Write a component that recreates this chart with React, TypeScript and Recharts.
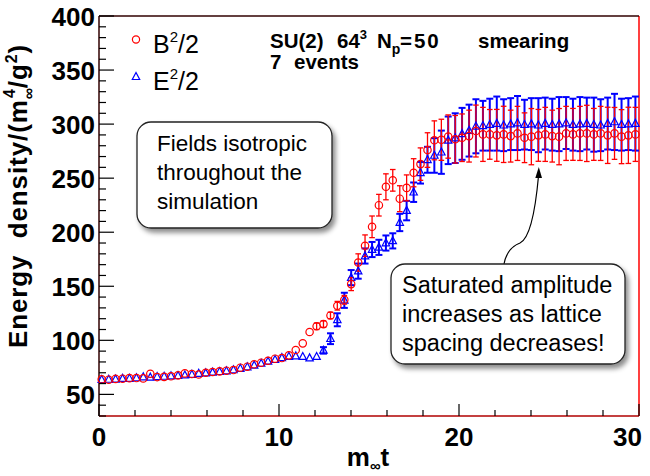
import React from 'react';
import { ScatterChart, Scatter, XAxis, YAxis, ErrorBar, ReferenceLine } from 'recharts';

// m_inf t sample times
const times = [
  0.15, 0.54, 0.92, 1.31, 1.69, 2.08, 2.46, 2.85, 3.23, 3.62,
  4.0, 4.39, 4.77, 5.16, 5.54, 5.93, 6.31, 6.7, 7.08, 7.47,
  7.85, 8.24, 8.62, 9.01, 9.39, 9.78, 10.16, 10.55, 10.93, 11.32,
  11.7, 12.09, 12.47, 12.86, 13.24, 13.63, 14.01, 14.4, 14.78, 15.17,
  15.55, 15.94, 16.32, 16.71, 17.09, 17.48, 17.86, 18.25, 18.63, 19.02,
  19.4, 19.79, 20.17, 20.56, 20.94, 21.33, 21.71, 22.1, 22.48, 22.87,
  23.25, 23.64, 24.02, 24.41, 24.79, 25.18, 25.56, 25.95, 26.33, 26.72,
  27.1, 27.49, 27.87, 28.26, 28.64, 29.03, 29.41, 29.8,
];

// B^2/2
const bHalf = [
  63.9, 63.6, 64.3, 64.5, 65.0, 65.1, 64.8, 69.1, 66.0, 66.2,
  66.7, 67.6, 69.4, 68.8, 68.4, 70.0, 70.7, 71.3, 71.9, 72.5,
  74.7, 75.6, 77.8, 79.3, 81.1, 83.0, 83.6, 86.1, 91.0, 97.2,
  107.7, 113, 115, 123, 132, 137.5, 152, 172, 187.5, 205,
  225, 242, 248, 231, 241, 255, 263, 276, 285, 285.5,
  288.5, 286, 287.4, 288.9, 293.6, 290.5, 290.5, 289.6, 290.5, 288.9,
  291.4, 287.4, 288.4, 289.6, 290.5, 288.9, 288.4, 291.4, 290.5, 291.4,
  291.4, 290.5, 291.4, 289.6, 291.4, 288.4, 289.6, 290.5,
];
const bErr = [
  0, 0, 0, 0, 0, 0, 0, 0, 0, 0,
  0, 0, 0, 0, 0, 0, 0, 0, 0, 0,
  0, 0, 0, 0, 0, 0, 0, 0, 0, 0,
  0, 3, 3, 3, 4, 4, 6, 8, 10, 10,
  10, 12, 10, 12, 12, 13, 15, 16, 18, 19,
  20, 22, 22, 24, 24, 25, 23, 24, 26, 24,
  25, 23, 26, 24, 25, 24, 26, 25, 24, 25,
  26, 24, 25, 26, 24, 25, 26, 25,
];

// E^2/2
const eHalf = [
  63.6, 63.8, 64.0, 64.6, 64.7, 65.2, 66.0, 65.8, 66.3, 66.6,
  67.0, 67.3, 67.8, 68.4, 69.3, 69.7, 70.4, 71.0, 71.6, 72.6,
  73.9, 75.3, 76.9, 78.6, 80.5, 82.1, 83.8, 85.0, 85.4, 84.9,
  83.6, 84.9, 90.7, 101.5, 119, 137, 158, 164, 178, 184,
  186, 190, 192, 209, 220, 237, 255, 267, 271, 274,
  285, 287, 291, 294, 298, 298.5, 299.5, 300.5, 299, 300,
  301, 299.5, 300, 299, 300.5, 299.5, 300, 301, 299.5, 300,
  300.5, 299.5, 299, 300.5, 302, 299.5, 300, 300.5,
];
const eErr = [
  0, 0, 0, 0, 0, 0, 0, 0, 0, 0,
  0, 0, 0, 0, 0, 0, 0, 0, 0, 0,
  0, 0, 0, 0, 0, 0, 0, 0, 0, 0,
  0, 0, 3, 5, 6, 7, 7, 7, 7, 7,
  7, 7, 7, 8, 9, 9, 10, 12, 16, 20,
  22, 23, 24, 24, 25, 23, 24, 25, 24, 24,
  25, 23, 24, 25, 24, 24, 25, 24, 24, 25,
  24, 25, 24, 24, 26, 24, 24, 25,
];

const xTicks = [0, 2, 4, 6, 8, 10, 12, 14, 16, 18, 20, 22, 24, 26, 28, 30];
const yTicks = [30, 40, 50, 60, 70, 80, 90, 100, 110, 120, 130, 140, 150, 160, 170, 180, 190, 200,
  210, 220, 230, 240, 250, 260, 270, 280, 290, 300, 310, 320, 330, 340, 350, 360, 370, 380, 390, 400];

const FONT = 'Liberation Sans, Arial, Helvetica, sans-serif';

const bData = times.map((t, i) => ({ t, v: bHalf[i], err: bErr[i] }));
const eData = times.map((t, i) => ({ t, v: eHalf[i], err: eErr[i] }));

const XTick = ({ x, y, payload }: any) => {
  const major = payload.value % 10 === 0;
  const last = payload.value === 30;
  return (
    <g>
      <line x1={x} x2={x} y1={y} y2={y - (major ? 12 : 6)} stroke="#000" strokeWidth={1.2} />
      {major && (
        <text x={last ? x + 3 : x} y={y + 30} textAnchor={last ? 'end' : 'middle'}
          fontSize={26} fontWeight="bold" fontFamily={FONT} fill="#000">
          {payload.value}
        </text>
      )}
    </g>
  );
};

const YTick = ({ x, y, payload }: any) => {
  const major = payload.value % 50 === 0;
  return (
    <g>
      <line x1={x} x2={x + (major ? 15 : 7)} y1={y} y2={y} stroke="#000" strokeWidth={1.2} />
      {major && (
        <text x={x - 4} y={y + 9.5} textAnchor="end" fontSize={26} fontWeight="bold"
          fontFamily={FONT} fill="#000">
          {payload.value}
        </text>
      )}
    </g>
  );
};

const Circle = (p: any) => (
  <circle cx={p.cx} cy={p.cy} r={3.7} fill="none" stroke="#ff0000" strokeWidth={1.2} />
);

const Tri = (p: any) => (
  <polygon
    points={`${p.cx},${p.cy - 4.2} ${p.cx - 3.7},${p.cy + 2.8} ${p.cx + 3.7},${p.cy + 2.8}`}
    fill="none" stroke="#0000ff" strokeWidth={1.2} />
);

const Overlay = () => (
  <svg width={650} height={476} style={{ position: 'absolute', left: 0, top: 0, pointerEvents: 'none' }}
    fontFamily={FONT}>
    <defs>
      <filter id="shadow" x="-10%" y="-10%" width="130%" height="140%">
        <feDropShadow dx="3" dy="4" stdDeviation="2.5" floodColor="#000" floodOpacity="0.45" />
      </filter>
    </defs>

    {/* y axis title */}
    <text transform="translate(27,196) rotate(-90)" textAnchor="middle" fontSize={26}
      fontWeight="bold" letterSpacing={0.9} style={{ whiteSpace: 'pre' }}>
      Energy  density/(m
      <tspan fontSize={16} dy={7}>∞</tspan>
      <tspan fontSize={16} dx={-11} dy={-19}>4</tspan>
      <tspan fontSize={26} dy={12}>/g</tspan>
      <tspan fontSize={16} dy={-10}>2</tspan>
      <tspan fontSize={26} dy={10}>)</tspan>
    </text>

    {/* x axis title */}
    <text x={368} y={466} textAnchor="middle" fontSize={26} fontWeight="bold">
      m<tspan fontSize={15} dy={5}>∞</tspan><tspan fontSize={26} dy={-5}>t</tspan>
    </text>

    {/* legend */}
    <circle cx={136} cy={39.5} r={3.6} fill="none" stroke="#ff0000" strokeWidth={1.2} />
    <text x={153} y={53} fontSize={25}>
      B<tspan fontSize={15} dy={-11}>2</tspan><tspan fontSize={25} dy={11}>/2</tspan>
    </text>
    <polygon points="136,72.5 132.3,79.5 139.7,79.5" fill="none" stroke="#0000ff" strokeWidth={1.2} />
    <text x={153} y={90} fontSize={25}>
      E<tspan fontSize={15} dy={-11}>2</tspan><tspan fontSize={25} dy={11}>/2</tspan>
    </text>

    {/* run info */}
    <g fontSize={20.5} fontWeight="bold">
      <text x={270} y={48}>SU(2)</text>
      <text x={337} y={48}>64<tspan fontSize={13} dy={-9}>3</tspan></text>
      <text x={377} y={48}>N<tspan fontSize={14} dy={6}>p</tspan></text>
      <text x={400} y={48} letterSpacing={2}>=50</text>
      <text x={478} y={48}>smearing</text>
      <text x={270} y={69}>7</text>
      <text x={294} y={69}>events</text>
    </g>

    {/* callouts */}
    <rect x={137} y={122} width={195} height={106} rx={14} fill="#fff" stroke="#222"
      strokeWidth={1.3} filter="url(#shadow)" />
    <g fontSize={22.5} fill="#000">
      <text x={157} y={151}>Fields isotropic</text>
      <text x={157} y={180}>throughout the</text>
      <text x={157} y={209}>simulation</text>
    </g>

    <path d="M504,264 Q507,248 520,243 Q533,237 538.5,176" fill="none" stroke="#000" strokeWidth={1.2} />
    <polygon points="538.8,167 535.3,178 542,178" fill="#000" />

    <rect x={391} y={264} width={234} height={100} rx={14} fill="#fff" stroke="#222"
      strokeWidth={1.3} filter="url(#shadow)" />
    <g fontSize={23.5} fill="#000">
      <text x={402} y={293}>Saturated amplitude</text>
      <text x={402} y={322}>increases as lattice</text>
      <text x={402} y={351}>spacing decreases!</text>
    </g>
  </svg>
);

export default function App() {
  return (
    <div style={{ position: 'absolute', left: 0, top: 0, width: 650, height: 476, background: '#fff' }}>
      <ScatterChart width={650} height={476} margin={{ top: 16, right: 11, bottom: 30, left: 39 }}>
        <XAxis type="number" dataKey="t" domain={[0, 30]} ticks={xTicks} interval={0}
          tickLine={false} tickSize={0} tickMargin={0} height={30}
          axisLine={{ stroke: '#b00000', strokeWidth: 1.5 }} tick={<XTick />} />
        <YAxis type="number" dataKey="v" domain={[30, 400]} ticks={yTicks} interval={0}
          tickLine={false} tickSize={0} tickMargin={0} width={60}
          axisLine={{ stroke: '#300000', strokeWidth: 1.5 }} tick={<YTick />} />
        <ReferenceLine x={30} stroke="#ff0000" strokeWidth={1.5} />
        <ReferenceLine y={400} stroke="#300000" strokeWidth={1.5} />
        <Scatter data={eData} shape={Tri} isAnimationActive={false}>
          <ErrorBar dataKey="err" direction="y" width={3.5} stroke="#0000ff" strokeWidth={2}
            isAnimationActive={false} />
        </Scatter>
        <Scatter data={bData} shape={Circle} isAnimationActive={false}>
          <ErrorBar dataKey="err" direction="y" width={2.8} stroke="#ff0000" strokeWidth={1.3}
            isAnimationActive={false} />
        </Scatter>
      </ScatterChart>
      <Overlay />
    </div>
  );
}
